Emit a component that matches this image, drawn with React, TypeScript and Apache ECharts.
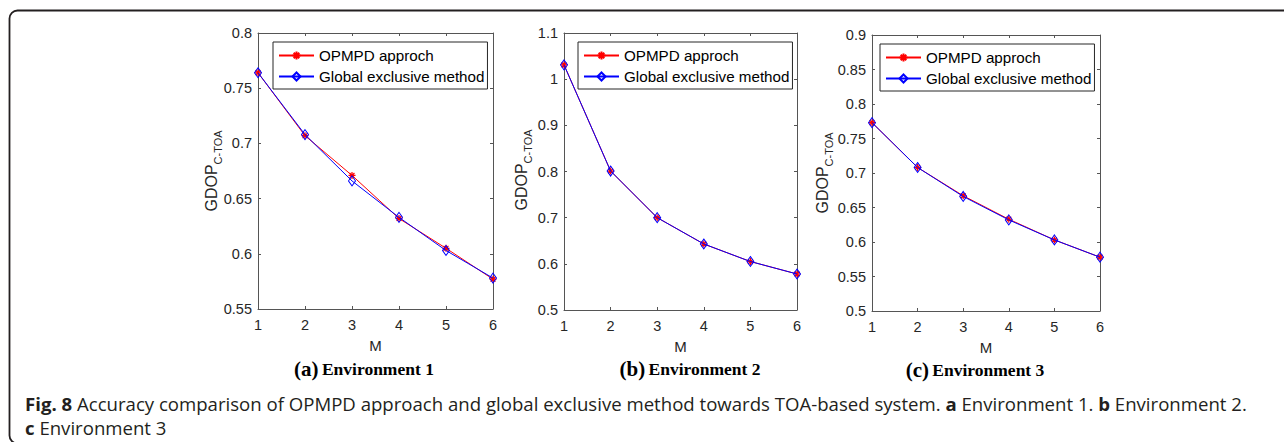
import React, { useEffect, useRef } from 'react';
import * as echarts from 'echarts';

// ---------------- data ----------------
const mValues = [1, 2, 3, 4, 5, 6];
const seriesNames = ['OPMPD approch', 'Global exclusive method'];

const env1Opmpd = [0.764, 0.707, 0.671, 0.632, 0.605, 0.577];
const env1Global = [0.764, 0.708, 0.666, 0.633, 0.603, 0.578];
const env2Opmpd = [1.031, 0.801, 0.7, 0.643, 0.605, 0.578];
const env2Global = [1.031, 0.801, 0.7, 0.643, 0.605, 0.578];
const env3Opmpd = [0.773, 0.708, 0.667, 0.633, 0.603, 0.578];
const env3Global = [0.773, 0.708, 0.666, 0.632, 0.603, 0.578];

const yMins = [0.55, 0.5, 0.5];
const yMaxs = [0.8, 1.1, 0.9];
const yIntervals = [0.05, 0.1, 0.05];

const panelLetters = ['(a)', '(b)', '(c)'];
const panelTitles = ['Environment 1', 'Environment 2', 'Environment 3'];
const xAxisName = 'M';
const yAxisMain = 'GDOP';
const yAxisSub = 'C-TOA';

const captionBold1 = 'Fig. 8';
const captionRest1 =
  ' Accuracy comparison of OPMPD approach and global exclusive method towards TOA-based system. ';
const captionA = 'a';
const captionAText = ' Environment 1. ';
const captionB = 'b';
const captionBText = ' Environment 2.';
const captionC = 'c';
const captionCText = ' Environment 3';

// ---------------- layout ----------------
const grids = [
  { left: 258, top: 33, width: 235, height: 276 },
  { left: 564, top: 33, width: 233, height: 277 },
  { left: 872, top: 35, width: 228, height: 276 },
];
const legendPos = [
  { left: 273, top: 42 },
  { left: 578, top: 42 },
  { left: 880, top: 44 },
];
const yLabelPos = [
  { x: 211, y: 171 },
  { x: 521, y: 170 },
  { x: 822, y: 173 },
];
const panelCaptionPos = [
  { x: 364, y: 369 },
  { x: 690, y: 369 },
  { x: 975, y: 370 },
];

const AX = '#555555';
const TXT = '#262626';
const SANS = 'Liberation Sans, Arial, sans-serif';
const SERIF = 'Liberation Serif, Times New Roman, serif';
const TICK_FS = 14.5;

const asterisk = 'path://M5,0L5,10M0,5L10,5M1.5,1.5L8.5,8.5M1.5,8.5L8.5,1.5';

const fmt = (v: number) => String(parseFloat(v.toFixed(2)));

export default function App() {
  const ref = useRef<HTMLDivElement>(null);
  useEffect(() => {
    if (!ref.current) return;
    const chart = echarts.init(ref.current, undefined, { renderer: 'svg' });

    const dataSets = [
      [env1Opmpd, env1Global],
      [env2Opmpd, env2Global],
      [env3Opmpd, env3Global],
    ];

    const xAxes: any[] = [];
    const yAxes: any[] = [];
    const series: any[] = [];
    const legends: any[] = [];
    const graphics: any[] = [];

    grids.forEach((g, i) => {
      xAxes.push({
        type: 'value', gridIndex: i, position: 'bottom', min: 1, max: 6, interval: 1,
        axisLine: { show: true, onZero: false, lineStyle: { color: AX, width: 1 } },
        axisTick: { show: true, inside: true, length: 3, lineStyle: { color: AX } },
        axisLabel: { show: true, color: TXT, fontSize: TICK_FS, fontFamily: SANS, margin: 8 },
        splitLine: { show: false },
        name: xAxisName, nameLocation: 'middle', nameGap: 29,
        nameTextStyle: { color: TXT, fontSize: 15, fontFamily: SANS, lineHeight: 15 },
      });
      yAxes.push({
        type: 'value', gridIndex: i, position: 'left',
        min: yMins[i], max: yMaxs[i], interval: yIntervals[i],
        axisLine: { show: true, onZero: false, lineStyle: { color: AX, width: 1 } },
        axisTick: { show: true, inside: true, length: 3, lineStyle: { color: AX } },
        axisLabel: { show: true, color: TXT, fontSize: TICK_FS, fontFamily: SANS, margin: 6, formatter: fmt },
        splitLine: { show: false },
      });
    });
    grids.forEach((g, i) => {
      xAxes.push({
        type: 'value', gridIndex: i, position: 'top', min: 1, max: 6, interval: 1,
        axisLine: { show: true, onZero: false, lineStyle: { color: AX, width: 1 } },
        axisTick: { show: true, inside: true, length: 3, lineStyle: { color: AX } },
        axisLabel: { show: false },
        splitLine: { show: false },
      });
      yAxes.push({
        type: 'value', gridIndex: i, position: 'right',
        min: yMins[i], max: yMaxs[i], interval: yIntervals[i],
        axisLine: { show: true, onZero: false, lineStyle: { color: AX, width: 1 } },
        axisTick: { show: true, inside: true, length: 3, lineStyle: { color: AX } },
        axisLabel: { show: false },
        splitLine: { show: false },
      });
    });

    dataSets.forEach((ds, i) => {
      series.push({
        type: 'line', name: seriesNames[0], xAxisIndex: i, yAxisIndex: i,
        data: mValues.map((m, k) => [m, ds[0][k]]),
        symbol: asterisk, symbolSize: 7, showSymbol: true,
        lineStyle: { color: '#ff0000', width: 1 },
        itemStyle: { color: '#ff0000', borderColor: '#ff0000', borderWidth: 1.2 },
        z: 2,
      });
      series.push({
        type: 'line', name: seriesNames[1], xAxisIndex: i, yAxisIndex: i,
        data: mValues.map((m, k) => [m, ds[1][k]]),
        symbol: 'diamond', symbolSize: [7, 10], showSymbol: true,
        lineStyle: { color: '#0000ff', width: 1 },
        itemStyle: { color: 'rgba(0,0,0,0)', borderColor: '#0000ff', borderWidth: 1 },
        z: 3,
      });
      legends.push({
        left: legendPos[i].left, top: legendPos[i].top,
        orient: 'vertical', itemGap: 6, itemWidth: 35, itemHeight: 10,
        padding: [6, 3, 5, 5],
        backgroundColor: '#ffffff', borderColor: '#262626', borderWidth: 1, borderRadius: 0,
        textStyle: { color: '#000', fontSize: 15.2, fontFamily: SANS, lineHeight: 15 },
        data: seriesNames,
        selectedMode: false,
        z: 10,
      });

      graphics.push({
        type: 'text', x: yLabelPos[i].x, y: yLabelPos[i].y, rotation: Math.PI / 2,
        style: {
          text: `{a|${yAxisMain}}{b|${yAxisSub}}`,
          align: 'center', verticalAlign: 'middle',
          rich: {
            a: { fontSize: 16, fontFamily: SANS, fill: TXT, lineHeight: 22, verticalAlign: 'middle' },
            b: { fontSize: 11, fontFamily: SANS, fill: TXT, lineHeight: 22, padding: [13, 0, 0, 0], verticalAlign: 'middle' },
          },
        },
      });
      graphics.push({
        type: 'text', x: panelCaptionPos[i].x, y: panelCaptionPos[i].y,
        style: {
          text: `{a|${panelLetters[i]}} {b|${panelTitles[i]}}`,
          align: 'center', verticalAlign: 'middle',
          rich: {
            a: { fontSize: 21, fontWeight: 'bold', fontFamily: SERIF, fill: '#000', lineHeight: 20 },
            b: { fontSize: 17.5, fontWeight: 'bold', fontFamily: SERIF, fill: '#000', lineHeight: 20 },
          },
        },
      });
    });

    graphics.push({
      type: 'rect', shape: { x: 9.5, y: 10.5, width: 1300, height: 433, r: 8 },
      style: { fill: 'none', stroke: '#231f20', lineWidth: 1.8 }, z: -1,
    });
    const capRich = {
      b: { fontSize: 18.6, fontWeight: 'bold', fontFamily: 'Open Sans', fill: '#231f20', lineHeight: 21 },
      r: { fontSize: 18.6, fontFamily: 'Open Sans', fill: '#231f20', lineHeight: 21 },
    };
    graphics.push({
      type: 'text', x: 25, y: 403,
      style: {
        text: `{b|${captionBold1}}{r|${captionRest1}}{b|${captionA}}{r|${captionAText}}{b|${captionB}}{r|${captionBText}}`,
        verticalAlign: 'middle',
        rich: capRich,
      },
    });
    graphics.push({
      type: 'text', x: 25, y: 427,
      style: {
        text: `{b|${captionC}}{r|${captionCText}}`,
        verticalAlign: 'middle',
        rich: capRich,
      },
    });

    chart.setOption({
      animation: false,
      backgroundColor: '#ffffff',
      grid: grids.map((g) => ({ ...g, containLabel: false })),
      xAxis: xAxes,
      yAxis: yAxes,
      legend: legends,
      series,
      graphic: graphics,
    });
    return () => chart.dispose();
  }, []);
  return (
    <div
      ref={ref}
      style={{ position: 'fixed', left: 0, top: 0, width: 1284, height: 442 }}
    />
  );
}
